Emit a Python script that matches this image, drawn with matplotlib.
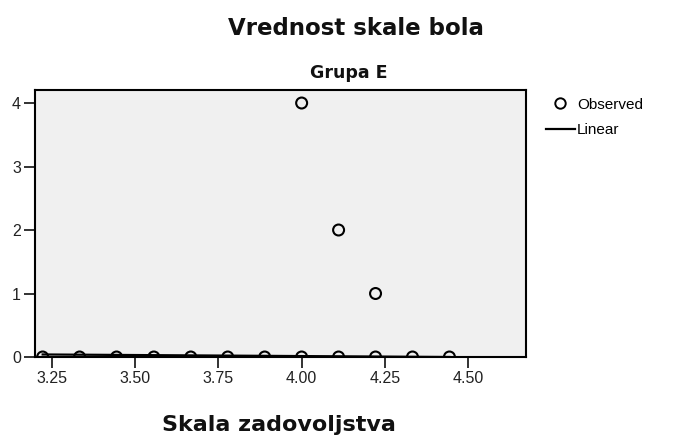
import matplotlib
matplotlib.use("Agg")
import matplotlib.pyplot as plt
from matplotlib.lines import Line2D

plt.rcParams['font.family'] = ['Liberation Sans', 'DejaVu Sans']

# observed points (skala zadovoljstva vs. vrednost skale bola)
obs_x = [3.222, 3.333, 3.444, 3.556, 3.667, 3.778, 3.889, 4.000, 4.111, 4.222, 4.333, 4.444,
         4.000, 4.111, 4.222]
obs_y = [0, 0, 0, 0, 0, 0, 0, 0, 0, 0, 0, 0,
         4, 2, 1]

# linear fit line
lin_x = [3.222, 4.444]
lin_y = [0.04, 0.0]

x_ticks = [3.25, 3.50, 3.75, 4.00, 4.25, 4.50]
y_ticks = [0, 1, 2, 3, 4]

fig = plt.figure(figsize=(6.74, 4.36), dpi=100)
ax = fig.add_axes([35 / 674, 1 - 357 / 436, 491 / 674, 267 / 436])
ax.set_facecolor('#f0f0f0')

ax.plot(lin_x, lin_y, color='black', lw=1.6, zorder=2)
ax.scatter(obs_x, obs_y, s=62, facecolors='none', edgecolors='black', linewidths=1.5, zorder=3)

ax.set_xlim(3.199, 4.674)
ax.set_ylim(0, 4.205)
ax.set_xticks(x_ticks)
ax.set_xticklabels(['%.2f' % t for t in x_ticks])
ax.set_yticks(y_ticks)
ax.tick_params(direction='out', length=8, width=1.3, labelsize=11.5, pad=2, colors='#222222')
for s in ax.spines.values():
    s.set_linewidth(1.5)

bold = dict(family='DejaVu Sans', fontweight='bold', color='#111111')
fig.text(356 / 674, 1 - 35 / 436, 'Vrednost skale bola', fontsize=16.5, ha='center',
         va='baseline', **bold)
fig.text(310 / 674, 1 - 78 / 436, 'Grupa E', fontsize=12.5, ha='left', va='baseline', **bold)
fig.text(279 / 674, 1 - 431 / 436, 'Skala zadovoljstva', fontsize=16, ha='center',
         va='baseline', **bold)

handles = [Line2D([], [], marker='o', ls='none', mfc='none', mec='black', ms=7.5, mew=1.4),
           Line2D([], [], color='black', lw=1.6)]
fig.legend(handles, ['Observed', 'Linear'], loc='upper left', bbox_to_anchor=(538 / 674, 1 - 90 / 436),
           frameon=False, fontsize=11, handlelength=1.9, handletextpad=0.15, labelspacing=0.75,
           borderpad=0)

fig.savefig('out.png', dpi=100)
